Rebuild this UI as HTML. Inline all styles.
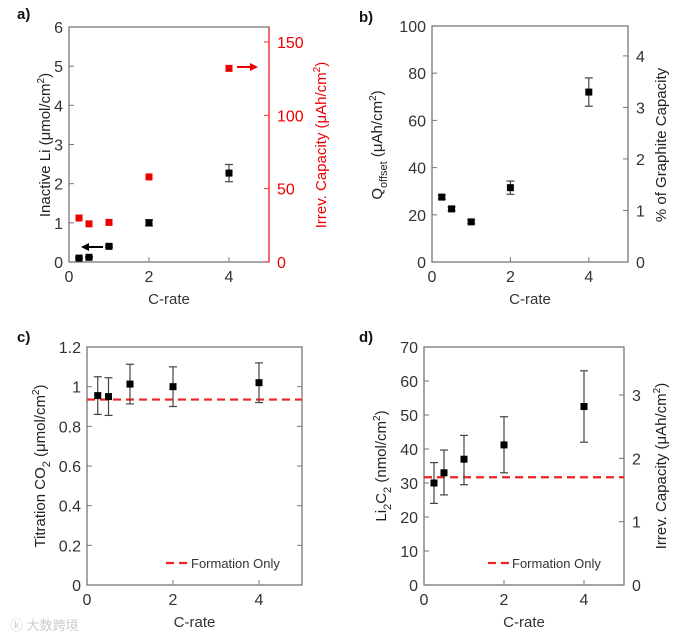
<!DOCTYPE html>
<html><head><meta charset="utf-8"><style>
html,body{margin:0;padding:0;background:#fff;}
svg{display:block;font-family:"Liberation Sans","Noto Sans CJK SC",sans-serif;}
</style></head><body>
<svg id="chart" width="682" height="639" viewBox="0 0 682 639"></svg>
<script>
const cRates = [0.25, 0.5, 1, 2, 4];
const aInactiveLi = [0.1, 0.12, 0.4, 1.0, 2.27];
const aInactiveErr = [0.02, 0.02, 0.03, 0.08, 0.22];
const aIrrevCap = [30, 26, 27, 58, 132];
const bQoffset = [27.5, 22.5, 17, 31.5, 72];
const bQErr = [0.8, 0.8, 0.8, 2.8, 6];
const cTitration = [0.955, 0.95, 1.013, 1.0, 1.02];
const cErr = [0.095, 0.095, 0.1, 0.1, 0.1];
const cFormation = 0.935;
const dLi2C2 = [30, 33, 37, 41.2, 52.5];
const dErrLo = [6, 6.5, 7.5, 8.2, 10.5];
const dErrHi = [6, 6.7, 7, 8.3, 10.5];
const dFormation = 31.7;
const xTicks = [0, 2, 4];
const aLeftTicks = [0,1,2,3,4,5,6];
const aRightTicks = [0,50,100,150];
const bLeftTicks = [0,20,40,60,80,100];
const bRightTicks = [0,1,2,3,4];
const cTicks = ["0","0.2","0.4","0.6","0.8","1","1.2"];
const dLeftTicks = [0,10,20,30,40,50,60,70];
const dRightTicks = [0,1,2,3];

const svg = document.getElementById('chart');
const NS = 'http://www.w3.org/2000/svg';
function mk(tag, attrs, parent, text){
  const e = document.createElementNS(NS, tag);
  for (const k in attrs) e.setAttribute(k, attrs[k]);
  if (text !== undefined) e.textContent = text;
  (parent || svg).appendChild(e);
  return e;
}
function lin(d0,d1,r0,r1){ return v => r0 + (v-d0)/(d1-d0)*(r1-r0); }

function panel(name, box, xMax, yMin, yMax){
  const g = mk('g', {});
  
  
  const x = lin(0, xMax, box.x0, box.x1);
  const y = lin(yMin, yMax, box.y0, box.y1);
  const frame = mk('rect', {x:box.x0, y:box.y1, width:box.x1-box.x0, height:box.y0-box.y1, fill:'none', stroke:'#777', 'stroke-width':1.3}, g);
  
  
  xTicks.forEach(t => {
    mk('line', {x1:x(t), x2:x(t), y1:box.y0, y2:box.y0-5, stroke:'#777'}, g);
    const lb = mk('text', {x:x(t), y:box.y0+20, 'font-size':16, 'text-anchor':'middle', fill:'#333'}, g, t);
    
    
  });
  const xt = mk('text', {x:(box.x0+box.x1)/2, y:box.y0+42, 'font-size':15, 'text-anchor':'middle', fill:'#333'}, g, 'C-rate');
  
  
  return {g, x, y};
}
function leftTicks(p, box, ticks, color){
  ticks.forEach(t => {
    const v = parseFloat(t);
    mk('line', {x1:box.x0, x2:box.x0+5, y1:p.y(v), y2:p.y(v), stroke:'#777'}, p.g);
    const lb = mk('text', {x:box.x0-6, y:p.y(v)+6, 'font-size':16, 'text-anchor':'end', fill:color||'#333'}, p.g, t);
    
    
  });
}
function rightTicks(p, box, ticks, yr, color, lineColor){
  ticks.forEach(t => {
    mk('line', {x1:box.x1, x2:box.x1-5, y1:yr(t), y2:yr(t), stroke:lineColor||'#777'}, p.g);
    const lb = mk('text', {x:box.x1+8, y:yr(t)+6, 'font-size':16, 'text-anchor':'start', fill:color||'#333'}, p.g, t);
    
    
  });
}
function errBar(p, xv, lo, hi){
  const xp = p.x(xv);
  mk('line', {x1:xp, x2:xp, y1:p.y(lo), y2:p.y(hi), stroke:'#444', 'stroke-width':1.2}, p.g);
  mk('line', {x1:xp-4, x2:xp+4, y1:p.y(lo), y2:p.y(lo), stroke:'#444', 'stroke-width':1.2}, p.g);
  mk('line', {x1:xp-4, x2:xp+4, y1:p.y(hi), y2:p.y(hi), stroke:'#444', 'stroke-width':1.2}, p.g);
}
function marker(p, xv, yp, color, name){
  const r = mk('rect', {x:p.x(xv)-3.5, y:yp-3.5, width:7, height:7, fill:color}, p.g);
  
  
}
function vlabel(g, xp, yp, color, html, name){
  const t = mk('text', {x:0, y:0, 'font-size':15, 'text-anchor':'middle', fill:color, transform:`translate(${xp},${yp}) rotate(-90)`}, g);
  t.innerHTML = html;
  
  
}
function letter(txt, xp, yp){
  const t = mk('text', {x:xp, y:yp, 'font-size':15, 'font-weight':'bold', fill:'#111'}, svg, txt);
  
  
}

// Panel a
const boxA = {x0:69, x1:269, y0:262, y1:27};
const pa = panel('panel-a', boxA, 5, 0, 6);
mk('line', {x1:269, x2:269, y1:27, y2:262, stroke:'#f33', 'stroke-width':1.3}, pa.g);
leftTicks(pa, boxA, aLeftTicks);
const yRa = lin(0, 160.2, 262, 27);
rightTicks(pa, boxA, aRightTicks, yRa, '#e00', '#f33');
cRates.forEach((c,i) => {
  errBar(pa, c, aInactiveLi[i]-aInactiveErr[i], aInactiveLi[i]+aInactiveErr[i]);
  marker(pa, c, pa.y(aInactiveLi[i]), '#000', 'inactive-li-point');
  marker(pa, c, yRa(aIrrevCap[i]), '#e00', 'irrev-capacity-point');
});
mk('line', {x1:103, x2:86, y1:247, y2:247, stroke:'#000', 'stroke-width':2}, pa.g);
mk('path', {d:'M81 247 L89 243 L89 251 Z', fill:'#000'}, pa.g);
mk('line', {x1:237, x2:252, y1:67, y2:67, stroke:'#e00', 'stroke-width':2}, pa.g);
mk('path', {d:'M258 67 L250 63 L250 71 Z', fill:'#e00'}, pa.g);
vlabel(pa.g, 50, 145, '#222', 'Inactive Li (μmol/cm<tspan dy="-6" font-size="10">2</tspan><tspan dy="6">)</tspan>', 'y-axis-title');
vlabel(pa.g, 326, 145, '#e00', 'Irrev. Capacity (μAh/cm<tspan dy="-6" font-size="10">2</tspan><tspan dy="6">)</tspan>', 'y2-axis-title');
letter('a)', 17, 19);

// Panel b
const boxB = {x0:432, x1:628, y0:262, y1:26};
const pb = panel('panel-b', boxB, 5, 0, 100);
leftTicks(pb, boxB, bLeftTicks);
const yRb = lin(0, 4.58, 262, 26);
rightTicks(pb, boxB, bRightTicks, yRb);
cRates.forEach((c,i) => {
  errBar(pb, c, bQoffset[i]-bQErr[i], bQoffset[i]+bQErr[i]);
  marker(pb, c, pb.y(bQoffset[i]), '#000', 'q-offset-point');
});
vlabel(pb.g, 382, 145, '#222', 'Q<tspan dy="5" font-size="11">offset</tspan><tspan dy="-5"> (μAh/cm</tspan><tspan dy="-6" font-size="10">2</tspan><tspan dy="6">)</tspan>', 'y-axis-title');
vlabel(pb.g, 666, 145, '#222', '% of Graphite Capacity', 'y2-axis-title');
letter('b)', 359, 22);

// Panel c
const boxC = {x0:87, x1:302, y0:585, y1:347};
const pc = panel('panel-c', boxC, 5, 0, 1.2);
leftTicks(pc, boxC, cTicks);
cTicks.forEach(t => mk('line', {x1:302, x2:297, y1:pc.y(parseFloat(t)), y2:pc.y(parseFloat(t)), stroke:'#777'}, pc.g));
const lc = mk('line', {x1:87, x2:302, y1:pc.y(cFormation), y2:pc.y(cFormation), stroke:'#e22', 'stroke-width':2.2, 'stroke-dasharray':'8,5'}, pc.g);


cRates.forEach((c,i) => {
  errBar(pc, c, cTitration[i]-cErr[i], cTitration[i]+cErr[i]);
  marker(pc, c, pc.y(cTitration[i]), '#000', 'titration-point');
});
const legC = mk('g', {}, pc.g);


mk('line', {x1:166, x2:190, y1:563, y2:563, stroke:'#e22', 'stroke-width':2.2, 'stroke-dasharray':'8,5'}, legC);
mk('text', {x:191, y:568, 'font-size':13, fill:'#333'}, legC, 'Formation Only');
vlabel(pc.g, 45, 466, '#222', 'Titration CO<tspan dy="5" font-size="11">2</tspan><tspan dy="-5"> (μmol/cm</tspan><tspan dy="-6" font-size="10">2</tspan><tspan dy="6">)</tspan>', 'y-axis-title');
letter('c)', 17, 342);

// Panel d
const boxD = {x0:424, x1:624, y0:585, y1:347};
const pd = panel('panel-d', boxD, 5, 0, 70);
leftTicks(pd, boxD, dLeftTicks);
const yRd = lin(0, 3, 585, 395);
rightTicks(pd, boxD, dRightTicks, yRd);
const ld = mk('line', {x1:424, x2:624, y1:pd.y(dFormation), y2:pd.y(dFormation), stroke:'#e22', 'stroke-width':2.2, 'stroke-dasharray':'8,5'}, pd.g);


cRates.forEach((c,i) => {
  errBar(pd, c, dLi2C2[i]-dErrLo[i], dLi2C2[i]+dErrHi[i]);
  marker(pd, c, pd.y(dLi2C2[i]), '#000', 'li2c2-point');
});
const legD = mk('g', {}, pd.g);


mk('line', {x1:488, x2:511, y1:563, y2:563, stroke:'#e22', 'stroke-width':2.2, 'stroke-dasharray':'8,5'}, legD);
mk('text', {x:512, y:568, 'font-size':13, fill:'#333'}, legD, 'Formation Only');
vlabel(pd.g, 386, 466, '#222', 'Li<tspan dy="5" font-size="11">2</tspan><tspan dy="-5">C</tspan><tspan dy="5" font-size="11">2</tspan><tspan dy="-5"> (nmol/cm</tspan><tspan dy="-6" font-size="10">2</tspan><tspan dy="6">)</tspan>', 'y-axis-title');
vlabel(pd.g, 666, 466, '#222', 'Irrev. Capacity (μAh/cm<tspan dy="-6" font-size="10">2</tspan><tspan dy="6">)</tspan>', 'y2-axis-title');
letter('d)', 359, 342);

const wm = mk('text', {x:10, y:630, 'font-size':13, fill:'#ccc'}, svg, 'ⓚ 大数跨境');


</script>
</body></html>
